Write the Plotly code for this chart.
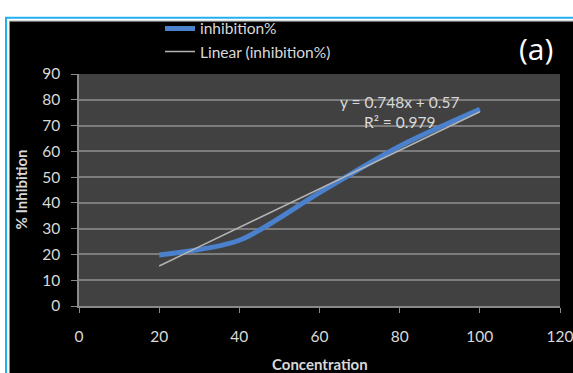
import plotly.graph_objects as go

# Data
concentration = [20, 40, 60, 80, 100]
inhibition = [19.8, 25.5, 44.0, 62.0, 76.3]
trend_slope = 0.748
trend_intercept = 0.57
trend_x = [20, 100]
trend_y = [trend_slope * x + trend_intercept for x in trend_x]
x_ticks = [0, 20, 40, 60, 80, 100, 120]
y_ticks = [0, 10, 20, 30, 40, 50, 60, 70, 80, 90]

W, H = 573, 373
L, R, T, B = 79, 13, 71, 67
PW, PH = W - L - R, H - T - B


def px(x):
    return (x - L) / PW


def py(y):
    return (H - B - y) / PH


FONT = "Lato"
TXT = "#d9d9d9"

fig = go.Figure()
fig.add_trace(go.Scatter(
    x=concentration, y=inhibition, mode="lines", name="inhibition%",
    line=dict(color="#4a80cc", width=5, shape="spline", smoothing=0.8),
))
fig.add_trace(go.Scatter(
    x=trend_x, y=trend_y, mode="lines", name="Linear (inhibition%)",
    line=dict(color="#b4b4b4", width=1.5),
))

shapes = [
    dict(type="rect", xref="paper", yref="paper", layer="below",
         x0=px(6), x1=px(600), y0=py(14), y1=py(400),
         fillcolor="white", line=dict(color="#22b0ee", width=2)),
    dict(type="rect", xref="paper", yref="paper", layer="below",
         x0=px(9.5), x1=px(600), y0=py(17.5), y1=py(400),
         fillcolor="black", line=dict(color="#888888", width=1)),
    dict(type="rect", xref="paper", yref="paper", layer="below",
         x0=0, x1=1, y0=0, y1=1,
         fillcolor="#414141", line=dict(width=0)),
]

annotations = [
    dict(x=80, y=79.3, xref="x", yref="y", text="y = 0.748x + 0.57", showarrow=False,
         font=dict(family=FONT, size=15.5, color=TXT)),
    dict(x=80, y=71.2, xref="x", yref="y", text="R² = 0.979", showarrow=False,
         font=dict(family=FONT, size=15.5, color=TXT)),
    dict(x=px(536), y=py(45), xref="paper", yref="paper", text="(a)", showarrow=False,
         font=dict(family="Open Sans", size=30, color="white"), xanchor="center", yanchor="middle"),
    dict(x=px(21), y=py(188), xref="paper", yref="paper", text="<b>% Inhibition</b>", showarrow=False,
         textangle=-90, font=dict(family=FONT, size=15, color=TXT), xanchor="center", yanchor="middle"),
    dict(x=px(320), y=py(365), xref="paper", yref="paper", text="<b>Concentration</b>", showarrow=False,
         font=dict(family=FONT, size=15, color=TXT), xanchor="center", yanchor="middle"),
]

fig.update_layout(
    width=W, height=H,
    margin=dict(l=L, r=R, t=T, b=B),
    paper_bgcolor="white",
    plot_bgcolor="#414141",
    shapes=shapes,
    annotations=annotations,
    showlegend=True,
    legend=dict(x=px(160), y=py(8), xanchor="left", yanchor="top",
                bgcolor="rgba(0,0,0,0)", font=dict(family=FONT, size=15.5, color=TXT),
                tracegroupgap=0, itemwidth=30),
    xaxis=dict(range=[0, 120], tickvals=x_ticks, showgrid=False, zeroline=False, automargin=False,
               showline=True, linecolor="#8a8a8a", linewidth=1.5, ticklabeloverflow="allow",
               ticks="outside", ticklen=5, tickcolor="#8a8a8a", ticklabelstandoff=11,
               tickfont=dict(family=FONT, size=15.5, color=TXT)),
    yaxis=dict(range=[0, 90], tickvals=y_ticks, showgrid=True, gridcolor="#7c7c7c", gridwidth=1.5,
               zeroline=False, showline=True, linecolor="#8a8a8a", linewidth=1.5, automargin=False,
               ticks="outside", ticklen=6, tickcolor="#8a8a8a", ticklabelstandoff=8,
               tickfont=dict(family=FONT, size=15.5, color=TXT)),
)

fig.write_html("out.html", post_script="document.body.style.margin='0';",
               config={"displayModeBar": False})
